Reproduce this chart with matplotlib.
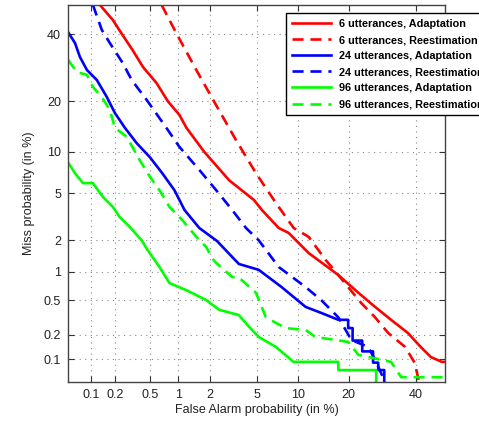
import math
import numpy as np
import matplotlib
matplotlib.use("Agg")
import matplotlib.pyplot as plt
from matplotlib.ticker import FixedLocator, FixedFormatter, NullLocator

# ---------------- data (percent) ----------------
red_ad_fa = [0.13, 0.187, 0.24, 0.32, 0.42, 0.59, 0.78, 1.02, 1.2, 1.78, 2.98, 4.77, 5.5, 7.34, 8.63,
             11.7, 15.5, 17.6, 22.5, 27.1, 31.9, 37.3, 41.6, 45.1, 48.9, 50]
red_ad_miss = [50, 44.8, 40, 34.7, 29.4, 24.8, 20, 16.9, 14.2, 10, 6.3, 4.44, 3.68, 2.58, 2.33,
               1.52, 1.09, 0.92, 0.60, 0.42, 0.30, 0.21, 0.142, 0.106, 0.092, 0.092]

red_re_fa = [0.67, 0.95, 1.5, 2.2, 3.41, 4.95, 7.0, 9.33, 11.7, 14.9, 17.6, 19.9, 23.2, 27.1, 31.0,
             36.4, 39.6, 41.3]
red_re_miss = [50, 40.3, 28.5, 19.9, 11.9, 7.1, 4.2, 2.58, 2.15, 1.30, 0.92, 0.69, 0.466, 0.32, 0.21,
               0.142, 0.089, 0.045]

blue_ad_fa = [0.05, 0.062, 0.072, 0.089, 0.119, 0.158, 0.198, 0.26, 0.356, 0.50, 0.68, 0.91, 1.15,
              1.6, 2.33, 3.6, 5.2, 7.7, 11.2, 14.0, 17.6, 19.9, 19.9, 21.0, 21.0, 23.5, 23.5, 26.5,
              26.5, 28.0, 28.0, 29.8, 29.8]
blue_ad_miss = [40.7, 37, 32.5, 28.5, 25.6, 21.1, 17.3, 14.2, 11.4, 9.2, 7.1, 5.3, 3.68,
                2.58, 1.97, 1.19, 1.04, 0.69, 0.42, 0.36, 0.30, 0.30, 0.24, 0.24, 0.17, 0.17, 0.125,
                0.125, 0.09, 0.09, 0.072, 0.072, 0.045]

blue_re_fa = [0.106, 0.137, 0.172, 0.246, 0.313, 0.46, 0.75, 1.02, 1.6, 2.29, 3.16, 4.12, 5.2, 7.34,
              11.2, 14.0, 17.6, 20.7, 25.1, 27.1, 30.5]
blue_re_miss = [50, 41.4, 37, 30.6, 25.6, 20.4, 14.2, 10.8, 7.5, 5.3, 3.68, 2.58, 2.0, 1.11,
                0.69, 0.50, 0.32, 0.173, 0.142, 0.098, 0.045]

green_ad_fa = [0.05, 0.062, 0.079, 0.106, 0.141, 0.187, 0.227, 0.296, 0.405, 0.47, 0.635, 0.81, 1.2,
               1.86, 2.44, 3.6, 4.35, 5.2, 7.0, 9.3, 17.6, 17.6, 27.4, 27.4]
green_ad_miss = [8.5, 7.1, 6.0, 6.0, 4.7, 3.9, 3.2, 2.64, 2.0, 1.63, 1.11, 0.76, 0.64,
                 0.50, 0.39, 0.34, 0.25, 0.188, 0.142, 0.092, 0.092, 0.072, 0.072, 0.045]

green_re_fa = [0.05, 0.066, 0.089, 0.106, 0.137, 0.172, 0.198, 0.273, 0.385, 0.50, 0.635, 0.81, 1.1,
               1.5, 1.86, 2.1, 2.29, 3.16, 3.6, 4.95, 5.9, 8.2, 11.2, 12.9, 19.9, 22.5, 31.9, 35.1, 50]
green_re_miss = [31.6, 27.9, 27.1, 23.7, 21.1, 18.0, 14.2, 12.5, 8.8, 6.7, 5.3, 3.9, 3.0,
                 2.15, 1.73, 1.36, 1.22, 0.88, 0.87, 0.60, 0.32, 0.24, 0.228, 0.188, 0.164, 0.113,
                 0.092, 0.058, 0.058]

labels = ["6 utterances, Adaptation", "6 utterances, Reestimation",
          "24 utterances, Adaptation", "24 utterances, Reestimation",
          "96 utterances, Adaptation", "96 utterances, Reestimation"]

tick_vals = [0.1, 0.2, 0.5, 1, 2, 5, 10, 20, 40]
tick_labels = ["0.1", "0.2", "0.5", "1", "2", "5", "10", "20", "40"]
lim = (0.05, 50)

# ---------------- probit (normal deviate) scale ----------------
_a = [-3.969683028665376e+01, 2.209460984245205e+02, -2.759285104469687e+02,
      1.383577518672690e+02, -3.066479806614716e+01, 2.506628277459239e+00]
_b = [-5.447609879822406e+01, 1.615858368580409e+02, -1.556989798598866e+02,
      6.680131188771972e+01, -1.328068155288572e+01]
_c = [-7.784894002430293e-03, -3.223964580411365e-01, -2.400758277161838e+00,
      -2.549732539343734e+00, 4.374664141464968e+00, 2.938163982698783e+00]
_d = [7.784695709041462e-03, 3.224671290700398e-01, 2.445134137142996e+00,
      3.754408661907416e+00]


def _ppf_scalar(p):
    plow = 0.02425
    if p < plow:
        q = math.sqrt(-2 * math.log(p))
        return (((((_c[0]*q+_c[1])*q+_c[2])*q+_c[3])*q+_c[4])*q+_c[5]) / \
               ((((_d[0]*q+_d[1])*q+_d[2])*q+_d[3])*q+1)
    if p > 1 - plow:
        q = math.sqrt(-2 * math.log(1 - p))
        return -(((((_c[0]*q+_c[1])*q+_c[2])*q+_c[3])*q+_c[4])*q+_c[5]) / \
                ((((_d[0]*q+_d[1])*q+_d[2])*q+_d[3])*q+1)
    q = p - 0.5
    r = q * q
    return (((((_a[0]*r+_a[1])*r+_a[2])*r+_a[3])*r+_a[4])*r+_a[5])*q / \
           (((((_b[0]*r+_b[1])*r+_b[2])*r+_b[3])*r+_b[4])*r+1)


def forward(x):
    x = np.asarray(x, dtype=float)
    p = np.clip(x / 100.0, 1e-9, 1 - 1e-9)
    out = np.array([_ppf_scalar(v) for v in p.ravel()]).reshape(p.shape)
    return out


def inverse(z):
    z = np.asarray(z, dtype=float)
    out = np.array([50.0 * (1 + math.erf(v / math.sqrt(2))) for v in z.ravel()]).reshape(z.shape)
    return out


# ---------------- figure ----------------
plt.rcParams['font.family'] = ['Liberation Sans', 'DejaVu Sans']
fig = plt.figure(figsize=(4.79, 4.21), dpi=100)
ax = fig.add_axes([68/479, 39/421, 377/479, 377/421])

ax.set_xscale('function', functions=(forward, inverse))
ax.set_yscale('function', functions=(forward, inverse))

lw = 1.9
dash = (0, (4.2, 2.6))
ax.plot(red_ad_fa, red_ad_miss, color=(1, 0, 0), lw=lw, label=labels[0])
ax.plot(red_re_fa, red_re_miss, color=(1, 0, 0), lw=lw, ls=dash, label=labels[1])
ax.plot(blue_ad_fa, blue_ad_miss, color=(0, 0, 1), lw=lw, label=labels[2])
ax.plot(blue_re_fa, blue_re_miss, color=(0, 0, 1), lw=lw, ls=dash, label=labels[3])
ax.plot(green_ad_fa, green_ad_miss, color=(0, 1, 0), lw=lw, label=labels[4])
ax.plot(green_re_fa, green_re_miss, color=(0, 1, 0), lw=lw, ls=dash, label=labels[5])

ax.set_xlim(*lim)
ax.set_ylim(*lim)
for axis in (ax.xaxis, ax.yaxis):
    axis.set_major_locator(FixedLocator(tick_vals))
    axis.set_major_formatter(FixedFormatter(tick_labels))
    axis.set_minor_locator(NullLocator())

ax.grid(True, ls=(0, (1, 4)), color='#888888', lw=0.8)
ax.tick_params(direction='in', top=True, right=True, length=4, width=0.8,
               labelsize=9, colors='#333333', labelcolor='#222222', pad=5)
for s in ax.spines.values():
    s.set_color('#444444')
    s.set_linewidth(1.0)

ax.set_xlabel("False Alarm probability (in %)", fontsize=9, color='#222222', labelpad=2)
ax.set_ylabel("Miss probability (in %)", fontsize=9, color='#222222', labelpad=6)

leg = ax.legend(loc='upper left', bbox_to_anchor=(286/479, 1 - 13/421),
                bbox_transform=fig.transFigure, fancybox=False, framealpha=1,
                edgecolor='black', prop={'size': 7.8, 'weight': 'bold'},
                handlelength=3.6, handletextpad=0.75, labelspacing=0.56,
                borderpad=0.55, borderaxespad=0)
leg.get_frame().set_linewidth(1.0)

fig.savefig("out.png", dpi=100)
